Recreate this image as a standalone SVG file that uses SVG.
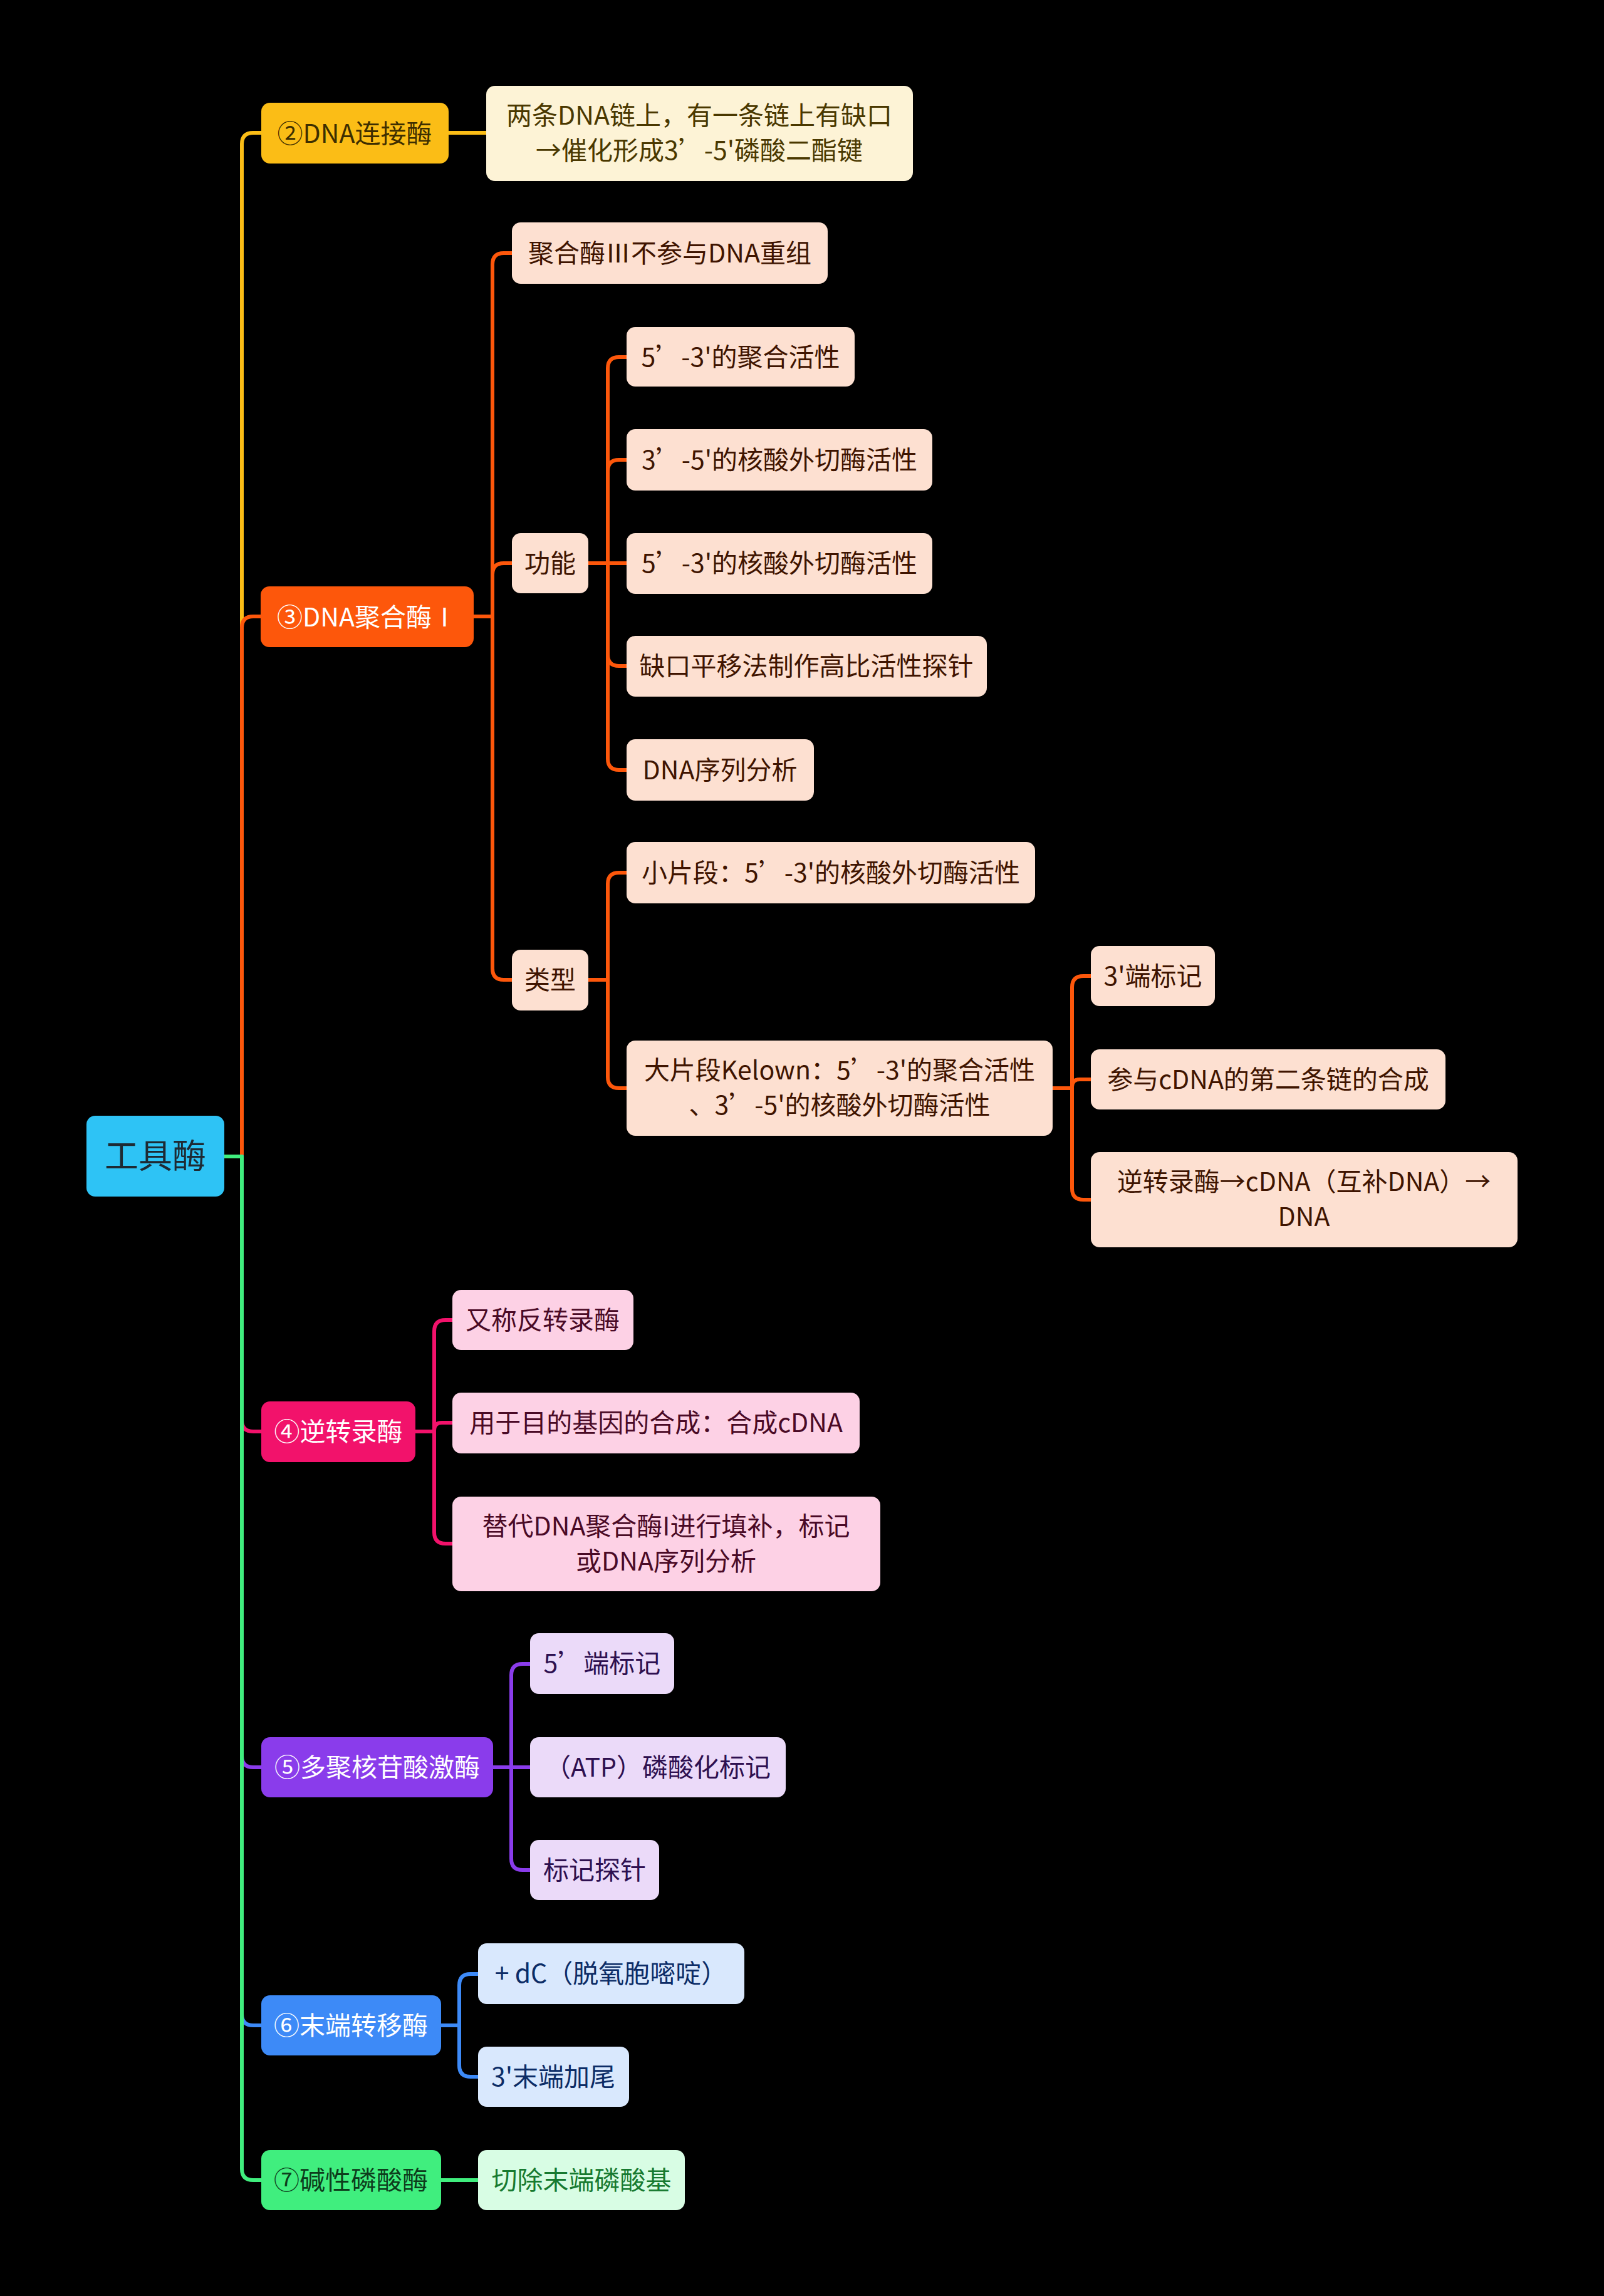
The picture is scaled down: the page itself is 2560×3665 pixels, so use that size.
<svg xmlns="http://www.w3.org/2000/svg" width="2560" height="3665" viewBox="0 0 2560 3665">
<style>
text{font-family:"Noto Sans CJK SC","Noto Sans",sans-serif;font-size:41px;text-anchor:middle}
.c{fill:none;stroke-width:6;stroke-linejoin:round}
.root rect{fill:#2ec3f5}.root text{fill:#1e2a33;font-size:54px}
.y1 rect{fill:#fbbd16}.y1 text{fill:#3d2e00}.y2 rect{fill:#fdf3d6}.y2 text{fill:#4a3800}
.o1 rect{fill:#fd570b}.o1 text{fill:#ffffff}.o2 rect{fill:#fde0d1}.o2 text{fill:#3f1400}
.p1 rect{fill:#f2126b}.p1 text{fill:#ffffff}.p2 rect{fill:#fdd1e5}.p2 text{fill:#4a0a26}
.v1 rect{fill:#8a3ceb}.v1 text{fill:#ffffff}.v2 rect{fill:#ebdaf9}.v2 text{fill:#2e1050}
.b1 rect{fill:#3d8af7}.b1 text{fill:#ffffff}.b2 rect{fill:#d9e8fd}.b2 text{fill:#0c2c66}
.g1 rect{fill:#40ee7e}.g1 text{fill:#0d3d1c}.g2 rect{fill:#d8fde4}.g2 text{fill:#177a30}
</style>
<rect x="0" y="0" width="2560" height="3665" fill="#000000"/>
<g id="connectors">
<path class="c" stroke="#fbbd16" d="M358,1846 H386 V230 Q386,212 404,212 H417"/>
<path class="c" stroke="#fd570b" d="M358,1846 H386 V1002 Q386,984 404,984 H416"/>
<path class="c" stroke="#f2126b" d="M358,1846 H386 V2267 Q386,2285 404,2285 H417"/>
<path class="c" stroke="#8a3ceb" d="M358,1846 H386 V2803 Q386,2821 404,2821 H417"/>
<path class="c" stroke="#3d8af7" d="M358,1846 H386 V3215 Q386,3233 404,3233 H417"/>
<path class="c" stroke="#40ee7e" d="M358,1846 H386 V3462 Q386,3480 404,3480 H417"/>
<path class="c" stroke="#fbbd16" d="M716,212 H776"/>
<path class="c" stroke="#fd570b" d="M756,984 H786 V422 Q786,404 804,404 H817"/>
<path class="c" stroke="#fd570b" d="M756,984 H786 V917 Q786,899 804,899 H817"/>
<path class="c" stroke="#fd570b" d="M756,984 H786 V1546 Q786,1564 804,1564 H817"/>
<path class="c" stroke="#fd570b" d="M939,899 H970 V588 Q970,570 988,570 H1000"/>
<path class="c" stroke="#fd570b" d="M939,899 H970 V752 Q970,734 988,734 H1000"/>
<path class="c" stroke="#fd570b" d="M939,899 H1000"/>
<path class="c" stroke="#fd570b" d="M939,899 H970 V1045 Q970,1063 988,1063 H1000"/>
<path class="c" stroke="#fd570b" d="M939,899 H970 V1211 Q970,1229 988,1229 H1000"/>
<path class="c" stroke="#fd570b" d="M939,1564 H970 V1411 Q970,1393 988,1393 H1000"/>
<path class="c" stroke="#fd570b" d="M939,1564 H970 V1719 Q970,1737 988,1737 H1000"/>
<path class="c" stroke="#fd570b" d="M1680,1737 H1711 V1576 Q1711,1558 1729,1558 H1741"/>
<path class="c" stroke="#fd570b" d="M1680,1737 H1711 V1735 Q1711,1723 1723,1723 H1741"/>
<path class="c" stroke="#fd570b" d="M1680,1737 H1711 V1897 Q1711,1915 1729,1915 H1741"/>
<path class="c" stroke="#f2126b" d="M663,2285 H693 V2125 Q693,2107 711,2107 H722"/>
<path class="c" stroke="#f2126b" d="M663,2285 H693 V2283 Q693,2271 705,2271 H722"/>
<path class="c" stroke="#f2126b" d="M663,2285 H693 V2446 Q693,2464 711,2464 H722"/>
<path class="c" stroke="#8a3ceb" d="M787,2821 H816 V2674 Q816,2656 834,2656 H846"/>
<path class="c" stroke="#8a3ceb" d="M787,2821 H846"/>
<path class="c" stroke="#8a3ceb" d="M787,2821 H816 V2967 Q816,2985 834,2985 H846"/>
<path class="c" stroke="#3d8af7" d="M704,3233 H733 V3169 Q733,3151 751,3151 H763"/>
<path class="c" stroke="#3d8af7" d="M704,3233 H733 V3297 Q733,3315 751,3315 H763"/>
<path class="c" stroke="#40ee7e" d="M704,3480 H763"/>
</g>
<g id="root" class="root"><rect x="138" y="1781" width="220" height="129" rx="14"/><text x="248" y="1865">工具酶</text></g>
<g id="n2" class="y1"><rect x="417" y="164" width="299" height="97" rx="14"/><text x="566" y="228">②DNA连接酶</text></g>
<g id="n2a" class="y2"><rect x="776" y="137" width="681" height="152" rx="14"/><text x="1116" y="199">两条DNA链上，有一条链上有缺口</text><text x="1116" y="255">→催化形成3’-5'磷酸二酯键</text></g>
<g id="n3" class="o1"><rect x="416" y="936" width="340" height="97" rx="14"/><text x="586" y="1000">③DNA聚合酶Ⅰ</text></g>
<g id="n3a" class="o2"><rect x="817" y="355" width="504" height="98" rx="14"/><text x="1069" y="419">聚合酶Ⅲ不参与DNA重组</text></g>
<g id="n3b" class="o2"><rect x="817" y="851" width="122" height="96" rx="14"/><text x="878" y="914">功能</text></g>
<g id="n3c" class="o2"><rect x="817" y="1516" width="122" height="97" rx="14"/><text x="878" y="1579">类型</text></g>
<g id="n3b1" class="o2"><rect x="1000" y="522" width="364" height="95" rx="14"/><text x="1182" y="585">5’-3'的聚合活性</text></g>
<g id="n3b2" class="o2"><rect x="1000" y="685" width="488" height="98" rx="14"/><text x="1244" y="749">3’-5'的核酸外切酶活性</text></g>
<g id="n3b3" class="o2"><rect x="1000" y="851" width="488" height="97" rx="14"/><text x="1244" y="914">5’-3'的核酸外切酶活性</text></g>
<g id="n3b4" class="o2"><rect x="1000" y="1015" width="575" height="97" rx="14"/><text x="1287" y="1078">缺口平移法制作高比活性探针</text></g>
<g id="n3b5" class="o2"><rect x="1000" y="1180" width="299" height="98" rx="14"/><text x="1149" y="1244">DNA序列分析</text></g>
<g id="n3c1" class="o2"><rect x="1000" y="1344" width="652" height="98" rx="14"/><text x="1326" y="1408">小片段：5’-3'的核酸外切酶活性</text></g>
<g id="n3c2" class="o2"><rect x="1000" y="1661" width="680" height="152" rx="14"/><text x="1340" y="1723">大片段Kelown：5’-3'的聚合活性</text><text x="1340" y="1779">、3’-5'的核酸外切酶活性</text></g>
<g id="n3c2a" class="o2"><rect x="1741" y="1510" width="198" height="96" rx="14"/><text x="1840" y="1573">3'端标记</text></g>
<g id="n3c2b" class="o2"><rect x="1741" y="1675" width="566" height="96" rx="14"/><text x="2024" y="1738">参与cDNA的第二条链的合成</text></g>
<g id="n3c2c" class="o2"><rect x="1741" y="1839" width="681" height="152" rx="14"/><text x="2081" y="1901">逆转录酶→cDNA（互补DNA）→</text><text x="2081" y="1957">DNA</text></g>
<g id="n4" class="p1"><rect x="417" y="2237" width="246" height="97" rx="14"/><text x="540" y="2300">④逆转录酶</text></g>
<g id="n4a" class="p2"><rect x="722" y="2059" width="289" height="96" rx="14"/><text x="866" y="2122">又称反转录酶</text></g>
<g id="n4b" class="p2"><rect x="722" y="2223" width="650" height="97" rx="14"/><text x="1047" y="2286">用于目的基因的合成：合成cDNA</text></g>
<g id="n4c" class="p2"><rect x="722" y="2389" width="683" height="151" rx="14"/><text x="1063" y="2451">替代DNA聚合酶I进行填补，标记</text><text x="1063" y="2507">或DNA序列分析</text></g>
<g id="n5" class="v1"><rect x="417" y="2773" width="370" height="96" rx="14"/><text x="602" y="2836">⑤多聚核苷酸激酶</text></g>
<g id="n5a" class="v2"><rect x="846" y="2607" width="230" height="97" rx="14"/><text x="961" y="2670">5’端标记</text></g>
<g id="n5b" class="v2"><rect x="846" y="2773" width="408" height="96" rx="14"/><text x="1050" y="2836">（ATP）磷酸化标记</text></g>
<g id="n5c" class="v2"><rect x="846" y="2937" width="206" height="96" rx="14"/><text x="949" y="3000">标记探针</text></g>
<g id="n6" class="b1"><rect x="417" y="3185" width="287" height="96" rx="14"/><text x="560" y="3248">⑥末端转移酶</text></g>
<g id="n6a" class="b2"><rect x="763" y="3102" width="425" height="97" rx="14"/><text x="975" y="3165">+ dC（脱氧胞嘧啶）</text></g>
<g id="n6b" class="b2"><rect x="763" y="3267" width="241" height="96" rx="14"/><text x="883" y="3330">3'末端加尾</text></g>
<g id="n7" class="g1"><rect x="417" y="3432" width="287" height="96" rx="14"/><text x="560" y="3495">⑦碱性磷酸酶</text></g>
<g id="n7a" class="g2"><rect x="763" y="3432" width="330" height="96" rx="14"/><text x="928" y="3495">切除末端磷酸基</text></g>
</svg>
